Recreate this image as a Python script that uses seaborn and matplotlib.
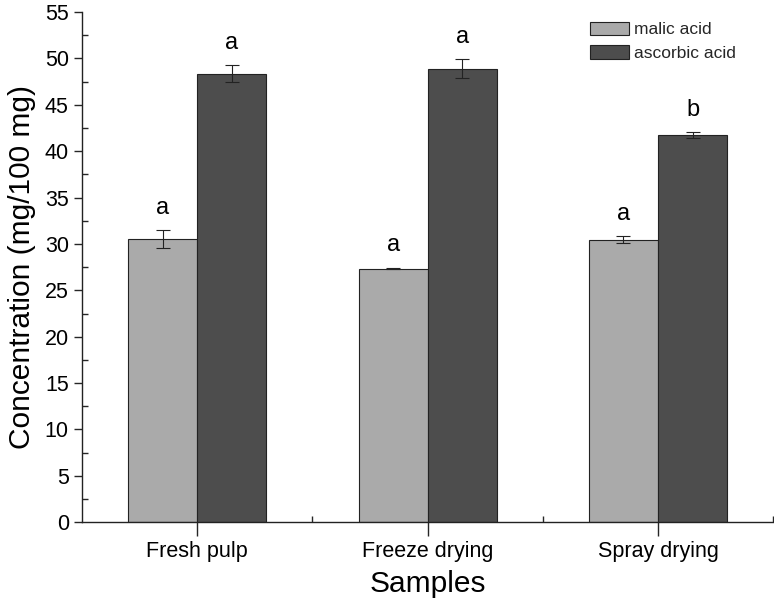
import numpy as np
import pandas as pd
import seaborn as sns
import matplotlib
matplotlib.use('Agg')
import matplotlib.pyplot as plt
from matplotlib.ticker import MultipleLocator

# data
samples = ['Fresh pulp', 'Freeze drying', 'Spray drying']
malic = [30.5, 27.35, 30.45]
malic_err = [0.95, 0.1, 0.4]
ascorbic = [48.35, 48.9, 41.75]
ascorbic_err = [0.9, 1.05, 0.35]
malic_letters = ['a', 'a', 'a']
ascorbic_letters = ['a', 'a', 'b']

df = pd.DataFrame({
    'Samples': samples * 2,
    'Concentration': malic + ascorbic,
    'acid': ['malic acid'] * 3 + ['ascorbic acid'] * 3,
})
errs = malic_err + ascorbic_err
letters = malic_letters + ascorbic_letters

sns.set_style('ticks')
plt.rcParams['font.family'] = ['Liberation Sans', 'DejaVu Sans']

fig = plt.figure(figsize=(7.74, 6.01), dpi=100)
ax = fig.add_axes([0.106, 0.131, 0.893, 0.849])

sns.barplot(data=df, x='Samples', y='Concentration', hue='acid',
            palette=['#aaaaaa', '#4d4d4d'], width=0.6, errorbar=None,
            edgecolor='#222222', linewidth=0.8, ax=ax)

# error bars and significance letters on top of seaborn's bars
bars = [p for p in ax.patches if p.get_height() > 0][:6]
for p, e, lt in zip(bars, errs, letters):
    xc = p.get_x() + p.get_width() / 2
    h = p.get_height()
    ax.errorbar(xc, h, yerr=e, fmt='none', ecolor='#222222', elinewidth=0.8,
                capsize=5, capthick=0.8)
    ax.annotate(lt, (xc, h + e), xytext=(0, 8), textcoords='offset points',
                ha='center', va='bottom', fontsize=17, color='black')

ax.set_ylim(0, 55)
ax.set_xlim(-0.5, 2.5)
ax.yaxis.set_major_locator(MultipleLocator(5))
ax.yaxis.set_minor_locator(MultipleLocator(2.5))
ax.set_xticks([0.5, 1.5, 2.5], minor=True)
ax.tick_params(axis='y', which='major', direction='out', length=6, width=1,
               labelsize=15.5, labelcolor='black')
ax.tick_params(axis='y', which='minor', direction='in', length=4, width=1)
ax.tick_params(axis='x', which='major', direction='out', length=10, width=1,
               labelsize=15.5, labelcolor='black')
ax.tick_params(axis='x', which='minor', direction='in', length=4, width=1)
ax.set_ylabel('Concentration (mg/100 mg)', fontsize=21.5, color='black', labelpad=6)
ax.set_xlabel('Samples', fontsize=21.5, color='black', labelpad=6)
sns.despine(ax=ax)
for s in ['left', 'bottom']:
    ax.spines[s].set_color('#222222')
    ax.spines[s].set_linewidth(1)

ax.legend(loc='upper left', bbox_to_anchor=(0.713, 1.012), frameon=False,
          fontsize=12.5, handlelength=2.2, handleheight=0.85, handletextpad=0.3,
          labelspacing=0.45)

fig.savefig('out.png', dpi=100)
